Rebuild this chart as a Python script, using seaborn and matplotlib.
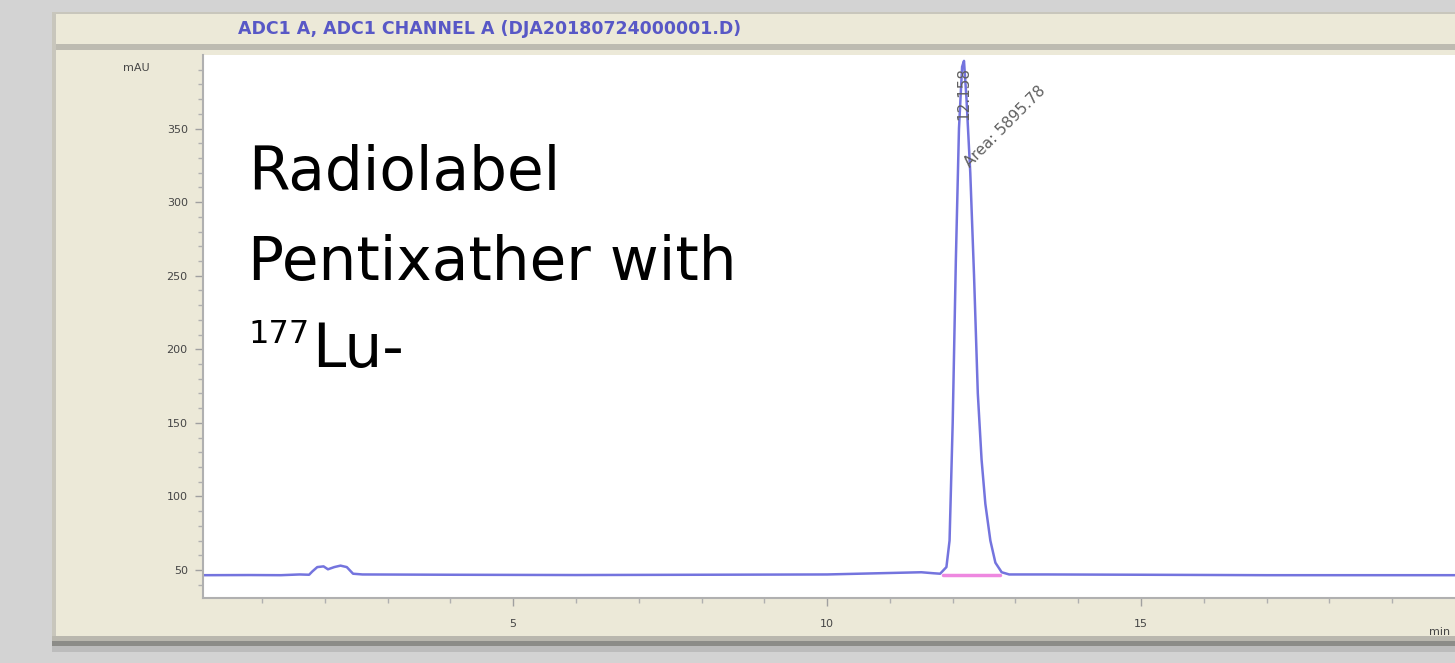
import numpy as np
import pandas as pd
import seaborn as sns
import matplotlib.pyplot as plt
from matplotlib.patches import Rectangle

# chromatogram (time in min, signal in mAU)
time_min = [0.06, 0.8, 1.3, 1.6, 1.75, 1.80, 1.88, 1.98, 2.05, 2.15, 2.25, 2.35, 2.45, 2.6,
            4.0, 6.0, 8.0, 10.0, 11.0, 11.5, 11.7, 11.8, 11.9, 11.95, 12.0, 12.05, 12.1,
            12.15, 12.18, 12.22, 12.28, 12.34, 12.4, 12.46, 12.52, 12.6, 12.68, 12.78,
            12.9, 13.5, 15.0, 17.0, 20.0]
signal_mau = [46.5, 46.6, 46.5, 47.0, 46.8, 49.0, 52.0, 52.5, 50.5, 52.0, 53.0, 52.0, 47.5, 47.0,
              46.8, 46.6, 46.8, 47.0, 48.0, 48.5, 47.8, 47.5, 52.0, 70.0, 150.0, 260.0, 350.0,
              392.0, 396.0, 370.0, 320.0, 250.0, 170.0, 125.0, 95.0, 70.0, 55.0, 48.5,
              47.0, 47.0, 46.8, 46.5, 46.5]

# integration baseline under the peak
peak_start, peak_end = 11.85, 12.75
peak_base = 46.5
peak_rt = "12.158"
peak_area = "Area: 5895.78"

title = "ADC1 A, ADC1 CHANNEL A (DJA20180724000001.D)"
y_ticks = [50, 100, 150, 200, 250, 300, 350]
x_ticks = [5, 10, 15]

df = pd.DataFrame({"time": time_min, "mAU": signal_mau})

W, H = 1455, 663
sns.set_style("white")
plt.rcParams['font.family'] = ['DejaVu Sans']

fig = plt.figure(figsize=(W / 100, H / 100), dpi=100)
fig.patch.set_facecolor("#d3d3d3")


def fx(x):
    return x / W


def fy(y):
    return 1 - y / H


def box(x0, y0, x1, y1, color):
    fig.patches.append(Rectangle((fx(x0), fy(y1)), fx(x1) - fx(x0), fy(y0) - fy(y1),
                                 transform=fig.transFigure, facecolor=color,
                                 edgecolor="none", zorder=-5))


# window frame
box(52, 12, 1455, 652, "#ece9d8")
box(52, 12, 1455, 14, "#c8c6bc")
box(52, 44, 1455, 50, "#bdbbb1")
box(52, 12, 56, 652, "#c8c6bc")
box(52, 636, 1455, 641, "#b9b7ae")
box(52, 641, 1455, 646, "#8c8c88")
box(52, 646, 1455, 652, "#bcbcbc")

fig.text(fx(490), fy(29), title, color="#5858c6", fontsize=12.5, fontweight="bold",
         ha="center", va="center")

ax = fig.add_axes([fx(203), fy(598), fx(1455) - fx(203), fy(55) - fy(598)])
ax.set_facecolor("white")

sns.lineplot(data=df, x="time", y="mAU", ax=ax, color="#7474de", linewidth=1.8,
             sort=False, estimator=None)
ax.plot([peak_start, peak_end], [peak_base, peak_base], color="#ee88e0", linewidth=2.5,
        zorder=1)

ax.set_xlim(0.06, 20.0)
ax.set_ylim(31, 400)
ax.set_xticks(x_ticks)
ax.set_yticks(y_ticks)
ax.set_xticks(np.arange(1, 20), minor=True)
ax.set_yticks(np.arange(40, 400, 10), minor=True)
ax.tick_params(axis="both", which="both", bottom=True, left=True, direction="out")
ax.tick_params(axis="both", which="major", length=6, width=1, color="#a0a0a0",
               labelsize=8, labelcolor="#454545")
ax.tick_params(axis="both", which="minor", length=3.5, width=1, color="#b0b0b0")
ax.tick_params(axis="x", pad=9)
ax.tick_params(axis="y", pad=5)
ax.set_xlabel("")
ax.set_ylabel("")
for s in ["top", "right"]:
    ax.spines[s].set_visible(False)
for s in ["left", "bottom"]:
    ax.spines[s].set_color("#b0b0b0")
    ax.spines[s].set_linewidth(1.5)

fig.text(fx(150), fy(68), "mAU", fontsize=8, color="#454545", ha="right", va="center")
fig.text(fx(1450), fy(632), "min", fontsize=8, color="#454545", ha="right", va="center")

# peak labels
ax.text(12.17, 356, peak_rt, rotation=90, fontsize=11, color="#606060",
        ha="center", va="bottom", clip_on=True)
ax.text(12.31, 322, peak_area, rotation=45, fontsize=11, color="#606060",
        ha="left", va="bottom", rotation_mode="anchor")

# overlaid caption
cap = dict(fontsize=43, color="black", family=["DejaVu Sans"])
fig.text(fx(248), fy(190), "Radiolabel", ha="left", va="baseline", **cap)
fig.text(fx(248), fy(280), "Pentixather with", ha="left", va="baseline", **cap)
fig.text(fx(248), fy(343), "177", ha="left", va="baseline", fontsize=23, color="black",
         family=["DejaVu Sans"])
fig.text(fx(312), fy(367), "Lu-", ha="left", va="baseline", **cap)

fig.savefig("out.png", dpi=100, facecolor=fig.get_facecolor())
